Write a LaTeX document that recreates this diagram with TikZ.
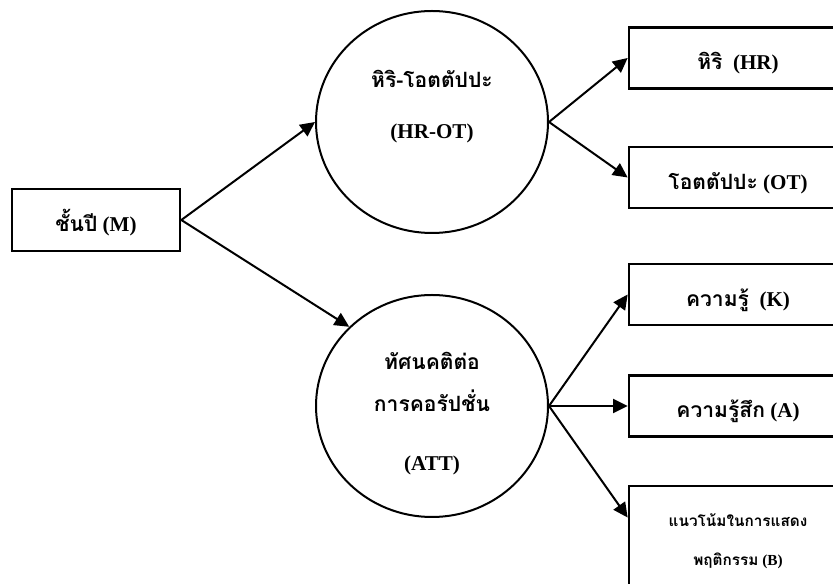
\documentclass[tikz,border=0pt]{standalone}
\usepackage{fontspec}
\setmainfont{Liberation Serif}
\newfontfamily\thaifont[Script=Thai]{Loma}
\newcommand{\thaitxt}[1]{{\thaifont #1}}
\usetikzlibrary{arrows.meta, shapes.geometric}

\begin{document}
\begin{tikzpicture}[x=0.75pt, y=-0.75pt,
        box/.style={draw, line width=2pt, minimum width=163.5pt, minimum height=45.75pt, inner sep=0pt,
            text height=20pt, text depth=2pt, font=\bfseries\fontsize{15.8}{19}\selectfont},
        latent/.style={draw, ellipse, line width=1.5pt, minimum width=174pt, minimum height=166.5pt},
        word/.style={anchor=base, inner sep=0pt, font=\bfseries\fontsize{15.8}{19}\selectfont},
        arr/.style={line width=1.5pt, -{Triangle[length=11pt, width=10.5pt]}}]
                \useasboundingbox (0, 0) rectangle (833, 584);
                \clip (0, 0) rectangle (833, 584);
                % grade level
                \node[box, minimum width=126pt, minimum height=46.5pt] (m) at (96, 220) {\thaitxt{ชั้นปี} (M)};
                % hiri-ottappa
                \node[latent] (hrot) at (432, 122) {};
                \node[word] (hrotth) at (432, 88) {\thaitxt{หิริ-โอตตัปปะ}};
                \node[word] (hroten) at (432, 139) {(HR-OT)};
                % attitude
                \node[latent] (att) at (432, 406) {};
                \node[word] (attth) at (432, 370) {\thaitxt{ทัศนคติต่อ}};
                \node[word] (attthb) at (432, 412) {\thaitxt{การคอรัปชั่น}};
                \node[word] (atten) at (432, 471) {(ATT)};
                % indicators
                \node[box] (hr) at (738, 58) {\thaitxt{หิริ}~ (HR)};
                \node[box] (ot) at (738, 177.5) {\thaitxt{โอตตัปปะ} (OT)};
                \node[box] (k) at (738, 294.5) {\thaitxt{ความรู้}~ (K)};
                \node[box] (a) at (738, 406) {\thaitxt{ความรู้สึก} (A)};
                \node[draw, line width=2pt, minimum width=163.5pt, minimum height=82.5pt, align=center,
                    font=\bfseries\fontsize{11.5}{29}\selectfont] (b) at (738, 541)
                    {\thaitxt{แนวโน้มในการแสดง}\\\thaitxt{พฤติกรรม} (B)};
                \coordinate (bin) at (b.168);
                % paths
                \draw[arr] (m.east) -- (hrot.west);
                \draw[arr] (m.east) -- (att.north west);
                \draw[arr] (hrot.east) -- (hr.west);
                \draw[arr] (hrot.east) -- (ot.west);
                \draw[arr] (att.east) -- (k.west);
                \draw[arr] (att.east) -- (a.west);
                \draw[arr] (att.east) -- (bin);
            \end{tikzpicture}
\end{document}
